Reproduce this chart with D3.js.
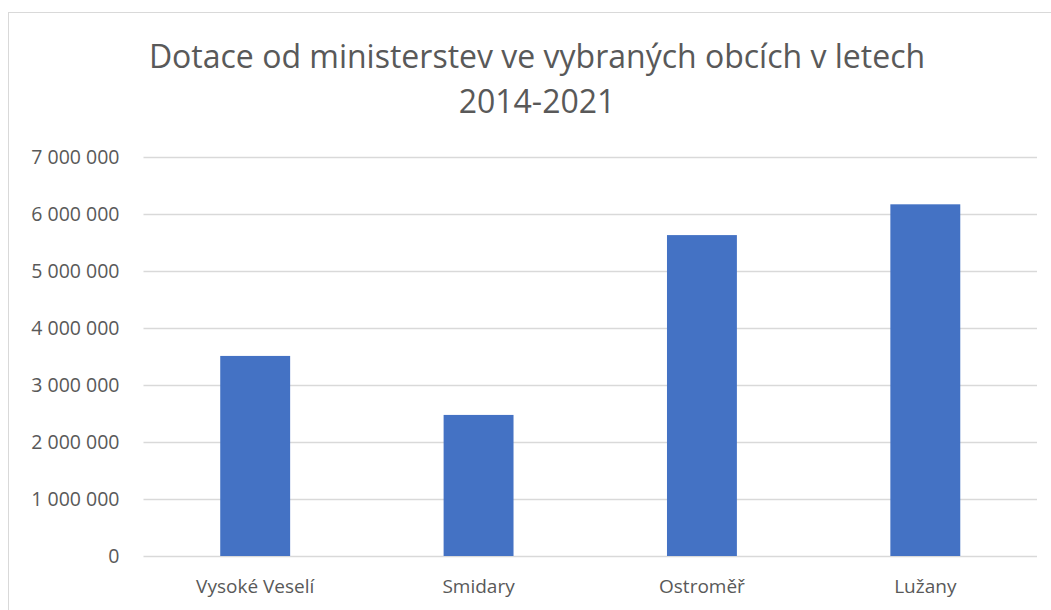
<!DOCTYPE html>
<html>
<head>
<meta charset="utf-8">
<script src="https://cdn.jsdelivr.net/npm/d3@7"></script>
<style>
  body { margin: 0; background: #fff; }
  svg { display: block; }
</style>
</head>
<body>
<svg class="chart" width="1051" height="610"></svg>
<script>
const categories = ["Vysoké Veselí", "Smidary", "Ostroměř", "Lužany"];
const values = [3510000, 2475000, 5630000, 6170000];
const yTicks = [0, 1000000, 2000000, 3000000, 4000000, 5000000, 6000000, 7000000];
const titleLines = ["Dotace od ministerstev ve vybraných obcích v letech", "2014-2021"];

const margin = { top: 157, right: 14, bottom: 54, left: 143.5 };
const width = 1051 - margin.left - margin.right;
const height = 610 - margin.top - margin.bottom;
const font = "'Open Sans', sans-serif";
const textColor = "#595959";

const root = d3.select(".chart");

// chart frame
root.append("rect")
  .attr("x", 8.5).attr("y", 12.5)
  .attr("width", 1100).attr("height", 700)
  .attr("fill", "none")
  .attr("stroke", "#d9d9d9")
  .attr("stroke-width", 1);

// title
root.append("g")
  .selectAll("text")
  .data(titleLines)
  .join("text")
  .attr("x", 537)
  .attr("y", (d, i) => 68 + i * 45)
  .attr("text-anchor", "middle")
  .attr("font-family", font)
  .attr("font-size", 32)
  .attr("fill", textColor)
  .text((d) => d);

const svg = root.append("g")
  .attr("transform", `translate(${margin.left},${margin.top})`);

const x = d3.scaleBand()
  .domain(categories)
  .range([0, width])
  .paddingInner(0.687)
  .paddingOuter(0.3435);

const y = d3.scaleLinear()
  .domain([0, 7000000])
  .range([height, 0]);

const fmt = (v) => d3.format(",")(v).replace(/,/g, " ");

// gridlines
svg.append("g")
  .selectAll("line")
  .data(yTicks)
  .join("line")
  .attr("x1", 0)
  .attr("x2", width)
  .attr("y1", (d) => Math.round(y(d)) + 0.5)
  .attr("y2", (d) => Math.round(y(d)) + 0.5)
  .attr("stroke", "#d9d9d9")
  .attr("stroke-width", 1.3);

// y axis labels
const yAxis = svg.append("g")
  .attr("transform", "translate(-24,0)")
  .call(d3.axisLeft(y).tickValues(yTicks).tickFormat(fmt).tickSize(0).tickPadding(0));
yAxis.select(".domain").remove();
yAxis.selectAll("text")
  .attr("font-family", font)
  .attr("font-size", 19.5)
  .attr("fill", textColor);

// bars
svg.append("g")
  .selectAll("rect")
  .data(values)
  .join("rect")
  .attr("x", (d, i) => x(categories[i]))
  .attr("y", (d) => y(d))
  .attr("width", x.bandwidth())
  .attr("height", (d) => y(0) - y(d))
  .attr("fill", "#4472c4");

// x axis labels
const xAxis = svg.append("g")
  .attr("transform", `translate(0,${height})`)
  .call(d3.axisBottom(x).tickSize(0).tickPadding(23.5));
xAxis.select(".domain").remove();
xAxis.selectAll("text")
  .attr("font-family", font)
  .attr("font-size", 19)
  .attr("fill", textColor);
</script>
</body>
</html>
